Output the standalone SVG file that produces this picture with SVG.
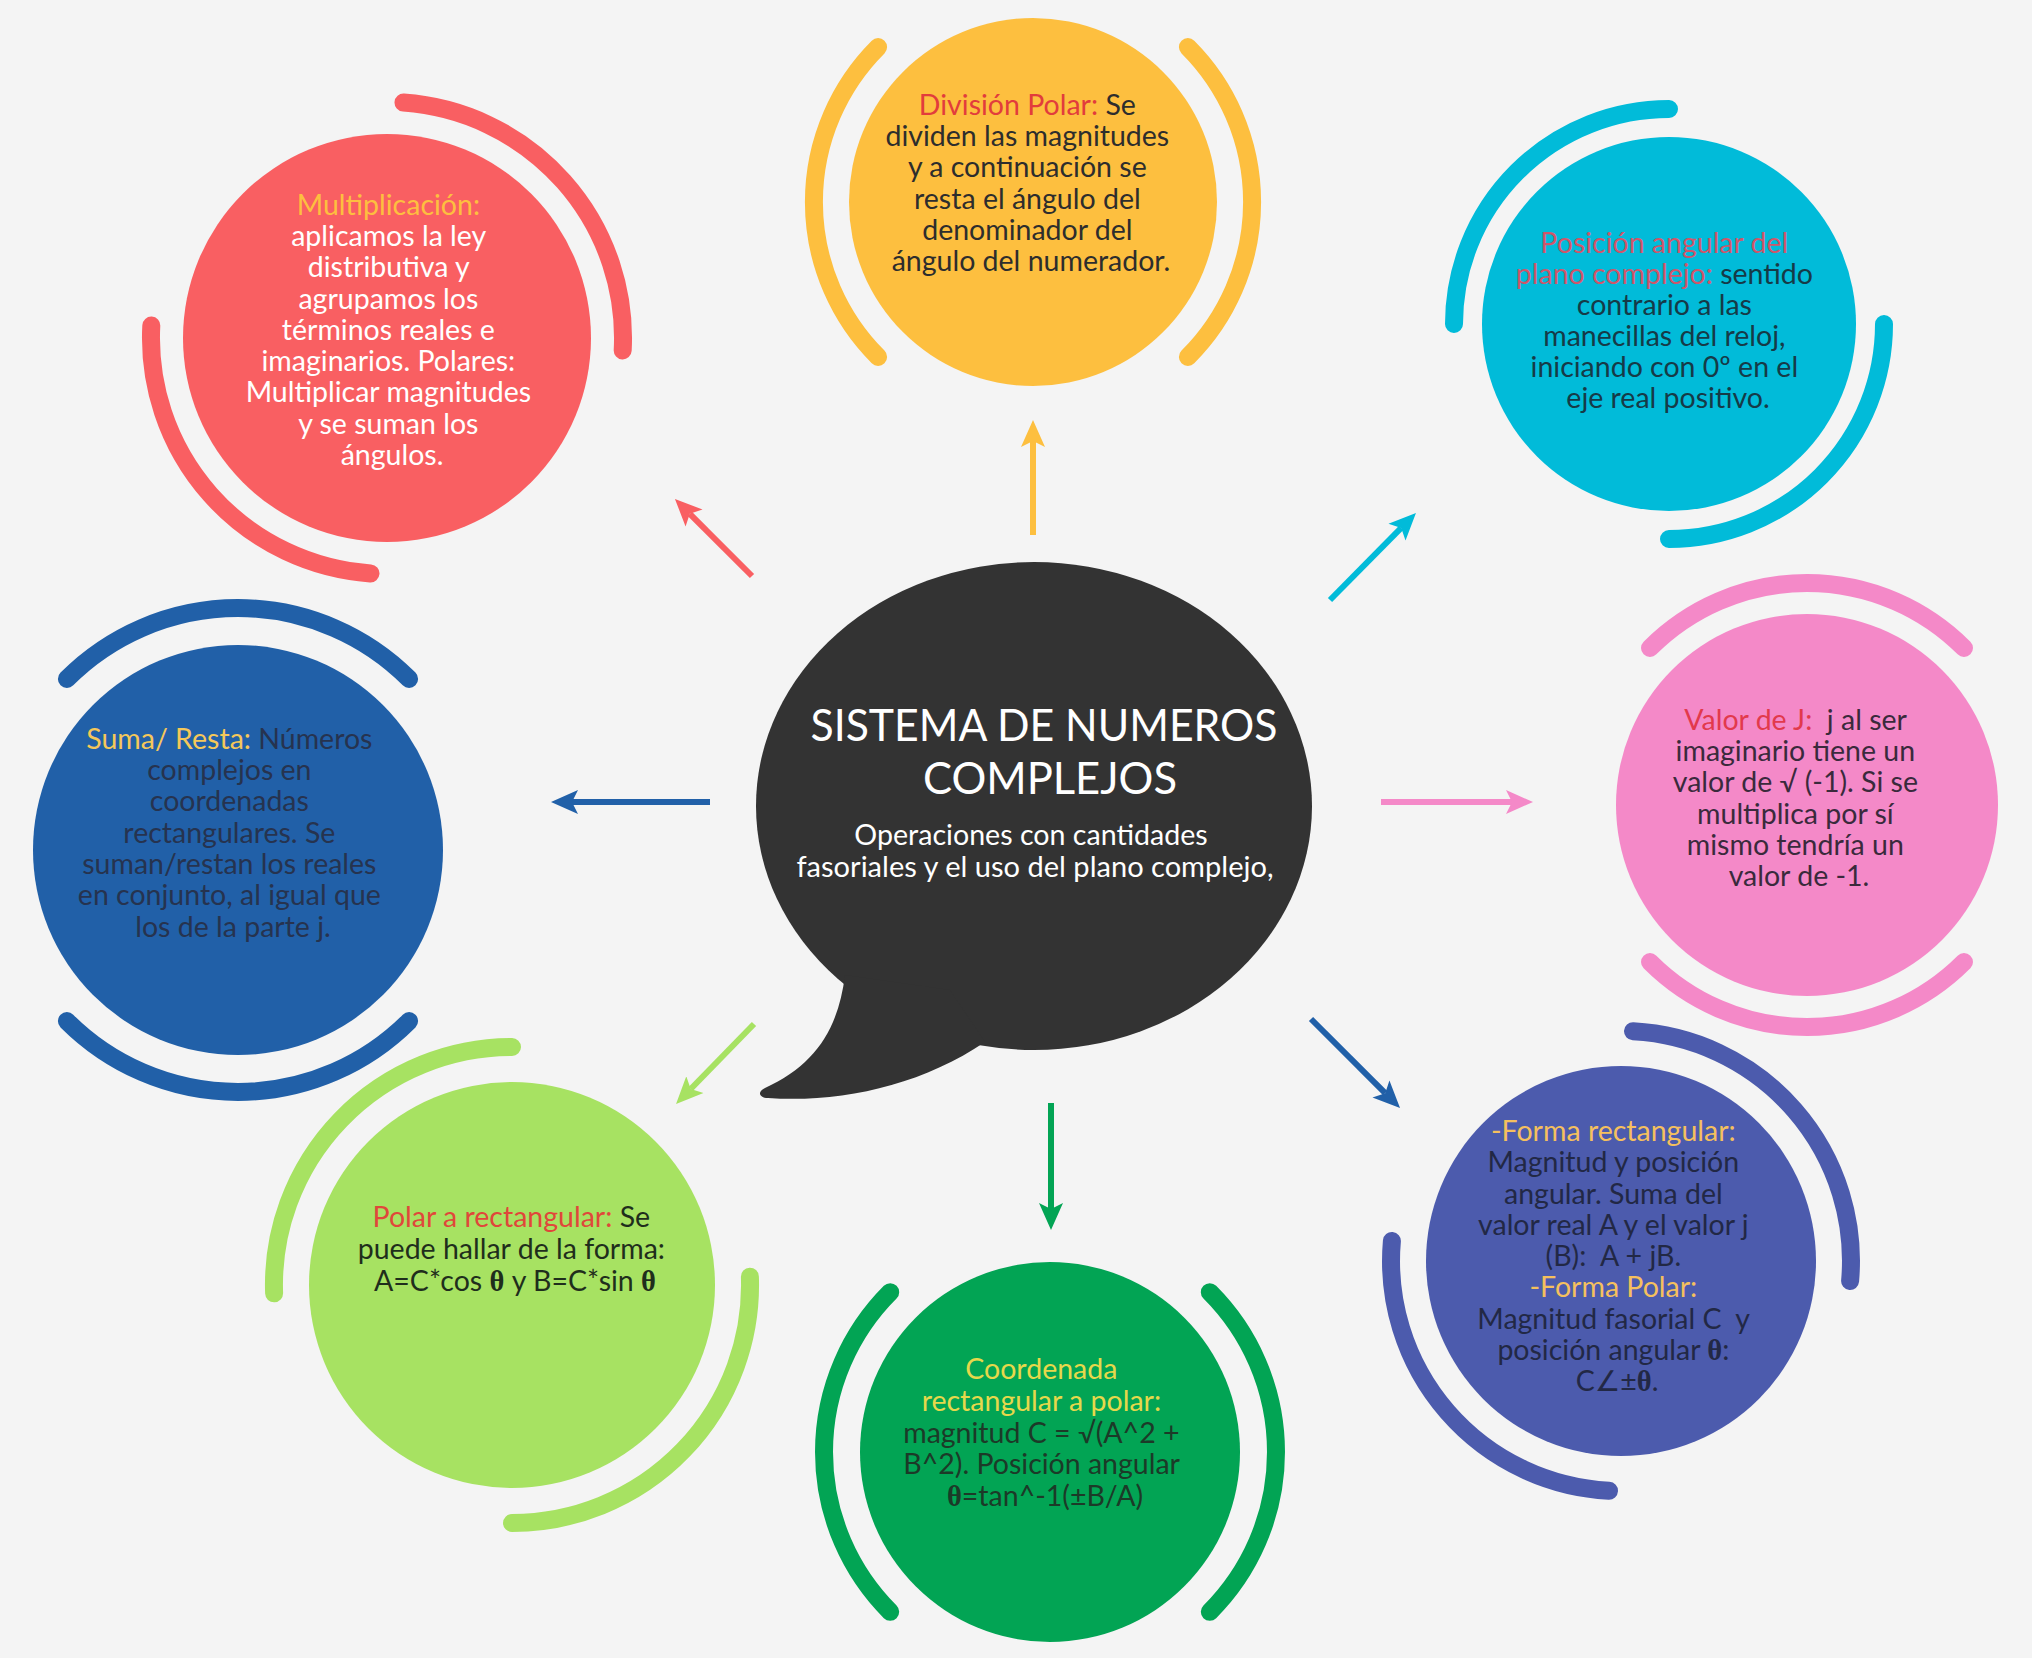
<svg xmlns="http://www.w3.org/2000/svg" width="2032" height="1658" viewBox="0 0 2032 1658">
<style>
.t{font-family:Lato,"Open Sans","DejaVu Sans",sans-serif;font-size:28.5px;text-anchor:middle}
.arc{fill:none;stroke-width:18;stroke-linecap:round}
.conn{stroke-width:6;fill:none}
.th{font-family:"Liberation Serif",serif;font-weight:bold}
.title{font-family:Lato,"Open Sans",sans-serif;font-size:45px;fill:#ffffff;text-anchor:middle}
.sub{font-family:Lato,"Open Sans",sans-serif;font-size:28.6px;fill:#ffffff;text-anchor:middle}
</style>
<defs>
<marker id="ah-red" viewBox="0 -13 28 26" refX="6" refY="0" markerWidth="28" markerHeight="26" orient="auto" markerUnits="userSpaceOnUse"><path d="M0,-12 L27,0 L0,12 L6,0 Z" fill="#f95f62"/></marker>
<marker id="ah-yellow" viewBox="0 -13 28 26" refX="6" refY="0" markerWidth="28" markerHeight="26" orient="auto" markerUnits="userSpaceOnUse"><path d="M0,-12 L27,0 L0,12 L6,0 Z" fill="#fdbf3f"/></marker>
<marker id="ah-cyan" viewBox="0 -13 28 26" refX="6" refY="0" markerWidth="28" markerHeight="26" orient="auto" markerUnits="userSpaceOnUse"><path d="M0,-12 L27,0 L0,12 L6,0 Z" fill="#01bbd9"/></marker>
<marker id="ah-blue" viewBox="0 -13 28 26" refX="6" refY="0" markerWidth="28" markerHeight="26" orient="auto" markerUnits="userSpaceOnUse"><path d="M0,-12 L27,0 L0,12 L6,0 Z" fill="#2160a8"/></marker>
<marker id="ah-pink" viewBox="0 -13 28 26" refX="6" refY="0" markerWidth="28" markerHeight="26" orient="auto" markerUnits="userSpaceOnUse"><path d="M0,-12 L27,0 L0,12 L6,0 Z" fill="#f489c8"/></marker>
<marker id="ah-lgreen" viewBox="0 -13 28 26" refX="6" refY="0" markerWidth="28" markerHeight="26" orient="auto" markerUnits="userSpaceOnUse"><path d="M0,-12 L27,0 L0,12 L6,0 Z" fill="#a7e262"/></marker>
<marker id="ah-dgreen" viewBox="0 -13 28 26" refX="6" refY="0" markerWidth="28" markerHeight="26" orient="auto" markerUnits="userSpaceOnUse"><path d="M0,-12 L27,0 L0,12 L6,0 Z" fill="#02a454"/></marker>
</defs>
<rect width="2032" height="1658" fill="#f4f4f4"/>

<g id="connectors">
<line class="conn" x1="752" y1="576" x2="689.8" y2="513.8" stroke="#f95f62" marker-end="url(#ah-red)"/>
<line class="conn" x1="1033" y1="535" x2="1033" y2="441" stroke="#fdbf3f" marker-end="url(#ah-yellow)"/>
<line class="conn" x1="1330" y1="600" x2="1401.2" y2="527.9" stroke="#01bbd9" marker-end="url(#ah-cyan)"/>
<line class="conn" x1="710" y1="802" x2="572" y2="802" stroke="#2160a8" marker-end="url(#ah-blue)"/>
<line class="conn" x1="1381" y1="802" x2="1512" y2="802" stroke="#f489c8" marker-end="url(#ah-pink)"/>
<line class="conn" x1="754" y1="1024" x2="690.7" y2="1089" stroke="#a7e262" marker-end="url(#ah-lgreen)"/>
<line class="conn" x1="1051" y1="1103" x2="1051" y2="1209" stroke="#02a454" marker-end="url(#ah-dgreen)"/>
<line class="conn" x1="1311" y1="1019" x2="1385.2" y2="1093.2" stroke="#2160a8" marker-end="url(#ah-blue)"/>
</g>

<g id="node-center">
<ellipse cx="1034" cy="806" rx="278" ry="244" fill="#333333"/>
<path d="M 845 975 C 838 1030, 815 1065, 765 1088 C 757 1092, 759 1098, 768 1098 C 840 1103, 920 1086, 985 1042 L 950 990 Z" fill="#333333"/>
<text class="title" x="1044" y="741" textLength="467" lengthAdjust="spacingAndGlyphs">SISTEMA DE NUMEROS</text>
<text class="title" x="1050" y="794" textLength="254" lengthAdjust="spacingAndGlyphs">COMPLEJOS</text>
<text class="sub" x="1031" y="845">Operaciones con cantidades</text>
<text class="sub" x="1035" y="877" textLength="477" lengthAdjust="spacingAndGlyphs">fasoriales y el uso del plano complejo,</text>
</g>

<g id="node-division">
<path class="arc" stroke="#fdbf3f" d="M 878.1 47.1 A 219 219 0 0 0 878.1 356.9"/>
<path class="arc" stroke="#fdbf3f" d="M 1187.9 47.1 A 219 219 0 0 1 1187.9 356.9"/>
<circle cx="1033" cy="202" r="184" fill="#fdbf3f"/>
<text class="t" fill="#2d2d2d">
<tspan x="1031" y="115"><tspan fill="#e23c3c">División Polar:</tspan> Se</tspan>
<tspan x="1031" y="146">dividen las magnitudes</tspan>
<tspan x="1031" y="177">y a continuación se</tspan>
<tspan x="1031" y="209">resta el ángulo del</tspan>
<tspan x="1031" y="240">denominador del</tspan>
<tspan x="1031" y="271">ángulo del numerador.</tspan>
</text>
</g>

<g id="node-multiplicacion">
<path class="arc" stroke="#f95f62" d="M 403.5 102.6 A 236 236 0 0 1 622.7 350.4"/>
<path class="arc" stroke="#f95f62" d="M 370.5 573.4 A 236 236 0 0 1 151.3 325.6"/>
<circle cx="387" cy="338" r="204" fill="#f95f62"/>
<text class="t" fill="#ffffff">
<tspan x="392" y="215" fill="#fdbf3f">Multiplicación:</tspan>
<tspan x="392" y="246">aplicamos la ley</tspan>
<tspan x="392" y="277">distributiva y</tspan>
<tspan x="392" y="309">agrupamos los</tspan>
<tspan x="392" y="340">términos reales e</tspan>
<tspan x="392" y="371">imaginarios. Polares:</tspan>
<tspan x="392" y="402">Multiplicar magnitudes</tspan>
<tspan x="392" y="434">y se suman los</tspan>
<tspan x="392" y="465">ángulos.</tspan>
</text>
</g>

<g id="node-posicion">
<path class="arc" stroke="#01bbd9" d="M 1454 324 A 215 215 0 0 1 1669 109"/>
<path class="arc" stroke="#01bbd9" d="M 1884 324 A 215 215 0 0 1 1669 539"/>
<circle cx="1669" cy="324" r="187" fill="#01bbd9"/>
<text class="t" fill="#163a47">
<tspan x="1668" y="253" fill="#d0566a">Posición angular del</tspan>
<tspan x="1668" y="284"><tspan fill="#d0566a">plano complejo:</tspan> sentido</tspan>
<tspan x="1668" y="315">contrario a las</tspan>
<tspan x="1668" y="346">manecillas del reloj,</tspan>
<tspan x="1668" y="377">iniciando con 0º en el</tspan>
<tspan x="1668" y="408">eje real positivo.</tspan>
</text>
</g>

<g id="node-valorj">
<path class="arc" stroke="#f489c8" d="M 1650 648 A 222 222 0 0 1 1964 648"/>
<path class="arc" stroke="#f489c8" d="M 1964 962 A 222 222 0 0 1 1650 962"/>
<circle cx="1807" cy="805" r="191" fill="#f489c8"/>
<text class="t" fill="#3a2a3c">
<tspan x="1799" y="730"><tspan fill="#e2394c">Valor de J:</tspan>&#160; j al ser</tspan>
<tspan x="1799" y="761">imaginario tiene un</tspan>
<tspan x="1799" y="792">valor de √ (-1). Si se</tspan>
<tspan x="1799" y="824">multiplica por sí</tspan>
<tspan x="1799" y="855">mismo tendría un</tspan>
<tspan x="1799" y="886">valor de -1.</tspan>
</text>
</g>

<g id="node-suma">
<path class="arc" stroke="#2160a8" d="M 66.9 678.9 A 242 242 0 0 1 409.1 678.9"/>
<path class="arc" stroke="#2160a8" d="M 409.1 1021.1 A 242 242 0 0 1 66.9 1021.1"/>
<circle cx="238" cy="850" r="205" fill="#2160a8"/>
<text class="t" fill="#26334f">
<tspan x="233" y="749"><tspan fill="#f5c85a">Suma/ Resta:</tspan> Números</tspan>
<tspan x="233" y="780">complejos en</tspan>
<tspan x="233" y="811">coordenadas</tspan>
<tspan x="233" y="843">rectangulares. Se</tspan>
<tspan x="233" y="874">suman/restan los reales</tspan>
<tspan x="233" y="905">en conjunto, al igual que</tspan>
<tspan x="233" y="937">los de la parte j.</tspan>
</text>
</g>

<g id="node-polar-rect">
<path class="arc" stroke="#a7e262" d="M 274.1 1293.3 A 238 238 0 0 1 512 1047"/>
<path class="arc" stroke="#a7e262" d="M 749.9 1276.7 A 238 238 0 0 1 512 1523"/>
<circle cx="512" cy="1285" r="203" fill="#a7e262"/>
<text class="t" fill="#1f2e1c">
<tspan x="515" y="1227"><tspan fill="#e0473a">Polar a rectangular:</tspan> Se</tspan>
<tspan x="515" y="1259">puede hallar de la forma:</tspan>
<tspan x="515" y="1291">A=C*cos <tspan class="th">θ</tspan> y B=C*sin <tspan class="th">θ</tspan></tspan>
</text>
</g>

<g id="node-rect-polar">
<path class="arc" stroke="#02a454" d="M 890.2 1292.2 A 226 226 0 0 0 890.2 1611.8"/>
<path class="arc" stroke="#02a454" d="M 1209.8 1292.2 A 226 226 0 0 1 1209.8 1611.8"/>
<circle cx="1050" cy="1452" r="190" fill="#02a454"/>
<text class="t" fill="#1c3a28">
<tspan x="1045" y="1379" fill="#e6d84b">Coordenada</tspan>
<tspan x="1045" y="1411" fill="#e6d84b">rectangular a polar:</tspan>
<tspan x="1045" y="1443">magnitud C = √(A^2 +</tspan>
<tspan x="1045" y="1474">B^2). Posición angular</tspan>
<tspan x="1045" y="1506"><tspan class="th">θ</tspan>=tan^-1(±B/A)</tspan>
</text>
</g>

<g id="node-formas">
<path class="arc" stroke="#4c5bad" d="M 1633 1031.3 A 230 230 0 0 1 1850.1 1281"/>
<path class="arc" stroke="#4c5bad" d="M 1609 1490.7 A 230 230 0 0 1 1391.9 1241"/>
<circle cx="1621" cy="1261" r="195" fill="#4c5bad"/>
<text class="t" fill="#222845">
<tspan x="1617" y="1141" fill="#f5c05e">-Forma rectangular:</tspan>
<tspan x="1617" y="1172">Magnitud y posición</tspan>
<tspan x="1617" y="1204">angular. Suma del</tspan>
<tspan x="1617" y="1235">valor real A y el valor j</tspan>
<tspan x="1617" y="1266">(B):&#160; A + jB.</tspan>
<tspan x="1617" y="1297" fill="#f5c05e">-Forma Polar:</tspan>
<tspan x="1617" y="1329">Magnitud fasorial C&#160; y</tspan>
<tspan x="1617" y="1360">posición angular <tspan class="th">θ</tspan>:</tspan>
<tspan x="1617" y="1391">C∠±<tspan class="th">θ</tspan>.</tspan>
</text>
</g>
</svg>
